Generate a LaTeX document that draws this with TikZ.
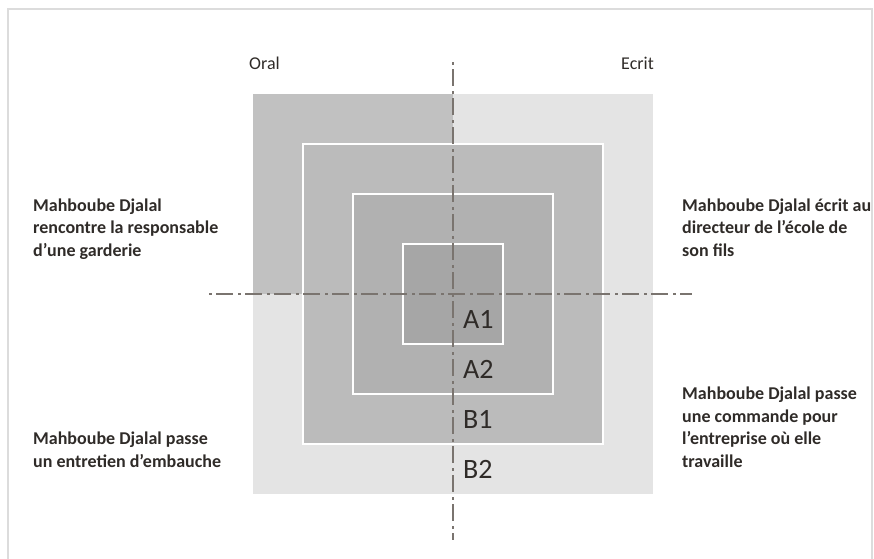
\documentclass[tikz,border=0pt]{standalone}
\usepackage{fontspec}
\setmainfont{Carlito}
\usetikzlibrary{positioning}

\definecolor{framegray}{HTML}{DCDCDC}
\definecolor{lightsq}{HTML}{E4E4E4}
\definecolor{darksq}{HTML}{C1C1C1}
\definecolor{sqb}{HTML}{BBBBBB}
\definecolor{sqc}{HTML}{B1B1B1}
\definecolor{sqd}{HTML}{A6A6A6}
\definecolor{axisgray}{HTML}{7A746F}
\definecolor{txtgray}{HTML}{2F2B28}

\begin{document}
\begin{tikzpicture}[x=1pt,y=-1pt,
	lbl/.style={anchor=base west,align=left,inner sep=0pt,text=txtgray,
		font=\fontsize{18}{22.5}\selectfont\bfseries},
	lvl/.style={anchor=base west,inner sep=0pt,text=txtgray,
		font=\fontsize{28}{28}\selectfont},
	side/.style={inner sep=0pt,text=txtgray,font=\fontsize{18}{18}\selectfont},
	axis/.style={axisgray,line width=1.5pt,
		dash pattern=on 2.5pt off 4.5pt on 17pt off 5pt}]

\useasboundingbox (0,0) rectangle (874,558);

\coordinate (O) at (453,294);

\def\big{200}

\coordinate (vtop) at (453,62);
\coordinate (vbot) at (453,540);
\coordinate (hleft) at (209,294);
\coordinate (hright) at (692,294);

\draw[framegray,line width=1.5pt] (8,562)--(8,9)--(872,9)--(872,562);

% outer square, oral half above the axis darker
\fill[lightsq] (O) ++(-\big,-\big) rectangle ++({2*\big},{2*\big});
\fill[darksq] (O) ++(-\big,-\big) rectangle (O);

\foreach \h/\c in {150/sqb,100/sqc,50/sqd} {
	\filldraw[fill=\c,draw=white,line width=2pt]
		(O) ++(-\h,-\h) rectangle ++({2*\h},{2*\h});
}

\draw[axis] (vtop)--(vbot);
\draw[axis] (hleft)--(hright);

\foreach \t/\y in {A1/328,A2/378,B1/428,B2/478} {
	\node[lvl] (lvl\t) at (463,\y) {\t};
}

\node[side,anchor=base west] (oral) at (249,69) {Oral};
\node[side,anchor=base east] (ecrit) at (654,69) {Ecrit};

% base of a multi-line node = baseline of its last line
\node[lbl] (garderie) at (33,256) {Mahboube Djalal\\rencontre la responsable\\d’une garderie};
\node[lbl] (ecole) at (682,256) {Mahboube Djalal écrit au\\directeur de l’école de\\son fils};
\node[lbl] (embauche) at (33,467) {Mahboube Djalal passe\\un entretien d’embauche};
\node[lbl] (commande) at (682,467) {Mahboube Djalal passe\\une commande pour\\l’entreprise où elle\\travaille};

\end{tikzpicture}
\end{document}
